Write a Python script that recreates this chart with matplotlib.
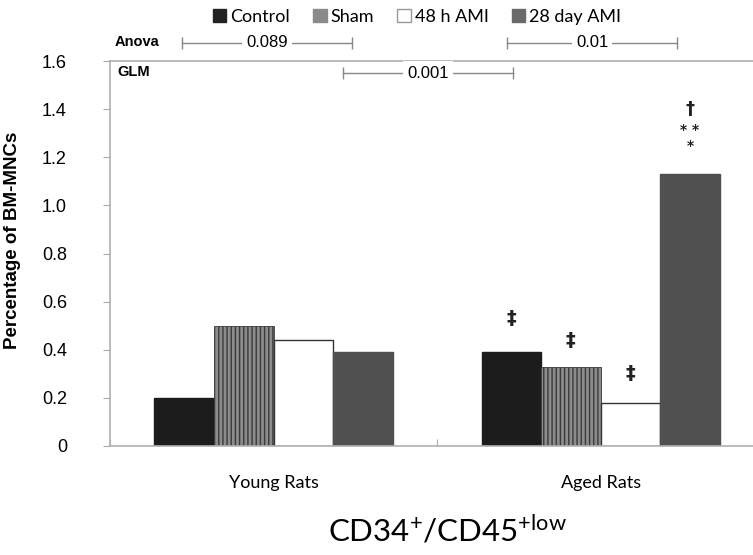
import matplotlib.pyplot as plt
import numpy as np

groups = ["Young Rats", "Aged Rats"]
series = ["Control", "Sham", "48 h AMI", "28 day AMI"]
control = [0.20, 0.39]
sham = [0.50, 0.33]
ami_48h = [0.44, 0.18]
ami_28d = [0.39, 1.13]
yticks = [0, 0.2, 0.4, 0.6, 0.8, 1.0, 1.2, 1.4, 1.6]
ytick_labels = ["0", "0.2", "0.4", "0.6", "0.8", "1.0", "1.2", "1.4", "1.6"]

# significance marks above the aged bars: (series index, mark, height, size)
aged_marks = [(0, "\u2021", 0.53, 14), (1, "\u2021", 0.44, 14), (2, "\u2021", 0.30, 14),
              (3, "\u2020", 1.40, 13), (3, "* *", 1.315, 10), (3, "*", 1.245, 10)]

# bracket annotations: (x start, x end, p value)
anova_brackets = [(-0.28, 0.24, "0.089"), (0.714, 1.234, "0.01")]
glm_brackets = [(0.213, 0.732, "0.001")]


def main():
    plt.rcParams['font.family'] = ['Liberation Sans', 'DejaVu Sans']
    plt.rcParams['mathtext.fontset'] = 'custom'
    plt.rcParams['mathtext.rm'] = 'Lato'
    plt.rcParams['mathtext.it'] = 'Lato'

    fig = plt.figure(figsize=(7.53, 5.55), dpi=100)
    ax = fig.add_axes([110 / 753, 109 / 555, 1 - 110 / 753, 385 / 555])

    x = np.arange(len(groups))
    w = 0.182
    styles = [
        dict(color="#1c1c1c", edgecolor="#1c1c1c"),
        dict(color="#8c8c8c", edgecolor="#3a3a3a", hatch="||||", linewidth=0.6),
        dict(color="white", edgecolor="#333333", linewidth=1.0),
        dict(color="#505050", edgecolor="#505050"),
    ]
    values = [control, sham, ami_48h, ami_28d]
    for i, (vals, st) in enumerate(zip(values, styles)):
        ax.bar(x + (i - 1.5) * w, vals, width=w, **st)

    # marks over aged bars
    for i, mark, h, fs in aged_marks:
        ax.text(x[1] + (i - 1.5) * w, h, mark, ha="center", va="center",
                fontsize=fs, fontweight="bold", color="#222222", family="DejaVu Sans")

    ax.set_xlim(-0.5, 1.466)
    ax.set_ylim(0, 1.6)
    ax.set_yticks(yticks)
    ax.set_yticklabels(ytick_labels, fontsize=13)
    ax.set_xticks([-0.5, 0.5])
    ax.set_xticklabels([])
    ax.tick_params(axis="y", length=5, color="#aaaaaa", pad=26)
    ax.tick_params(axis="x", length=5, color="#aaaaaa", direction="in")

    for g, gx in zip(groups, x):
        ax.text(gx, -0.155, g, ha="center", va="center", fontsize=13, family="Lato")

    ax.spines["right"].set_visible(False)
    for s in ["left", "bottom", "top"]:
        ax.spines[s].set_color("#b0b0b0")
        ax.spines[s].set_linewidth(1.2)

    ax.set_ylabel("Percentage of BM-MNCs", fontsize=13.5, fontweight="bold")
    ax.yaxis.set_label_coords(-0.138, 0.535)

    # Anova / GLM brackets
    ax.text(-0.487, 1.679, "Anova", fontsize=10.5, fontweight="bold", va="center",
            clip_on=False)
    ax.text(-0.478, 1.554, "GLM", fontsize=10.5, fontweight="bold", va="center")
    for y, rows in [(1.675, anova_brackets), (1.55, glm_brackets)]:
        for x0, x1, lab in rows:
            ax.plot([x0, x1], [y, y], color="#888888", lw=1.0, clip_on=False,
                    marker="|", markersize=8, markeredgewidth=1.0)
            ax.text((x0 + x1) / 2, y, lab, ha="center", va="center", fontsize=12,
                    clip_on=False, bbox=dict(facecolor="white", edgecolor="none", pad=3))

    # legend
    handles = [plt.Rectangle((0, 0), 1, 1, facecolor=c, edgecolor=e)
               for c, e in [("#222222", "#222222"), ("#8a8a8a", "#8a8a8a"),
                            ("white", "#999999"), ("#6a6a6a", "#6a6a6a")]]
    fig.legend(handles, series, loc="center", bbox_to_anchor=(417 / 753, 1 - 17 / 555),
               ncol=4, frameon=False, handlelength=0.75, handleheight=0.75,
               handletextpad=0.2, columnspacing=1.3, prop={"family": "Lato", "size": 13})

    fig.text(448 / 753, 1 - 530 / 555, r"CD34$^{+}$/CD45$^{+\mathrm{low}}$",
             ha="center", va="center", fontsize=22.5, family="Lato")

    fig.savefig("out.png", dpi=100)


if __name__ == "__main__":
    main()
